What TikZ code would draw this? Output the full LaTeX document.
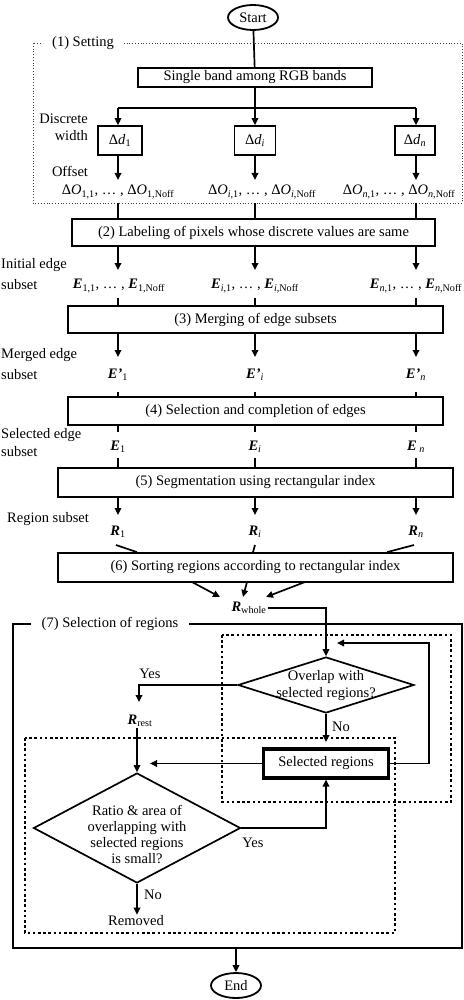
\documentclass[tikz,border=0pt]{standalone}
\usepackage{amsmath}
\usepackage{fontspec}
\setmainfont{Liberation Serif}
\usetikzlibrary{arrows.meta,shapes.geometric}
\newcommand{\mysub}[1]{\ensuremath{_{\text{#1}}}}
\newcommand{\bE}{\textbf{\textit{E}}}
\newcommand{\bR}{\textbf{\textit{R}}}
\begin{document}
\begin{tikzpicture}[x=1pt,y=-1pt,
  font=\fontsize{14.5}{17}\selectfont,
  ln/.style={line width=1.7pt},
  arr/.style={line width=1.7pt,-{Triangle[length=7pt,width=6.5pt]}},
  box/.style={draw,line width=1.7pt,inner sep=0pt},
  txt/.style={inner sep=1pt},
  lbl/.style={inner sep=1pt,anchor=west},
  term/.style={draw,ellipse,line width=1.8pt,minimum width=50pt,minimum height=25pt,inner sep=0pt},
  dia/.style={draw,diamond,line width=1.7pt,inner sep=0pt},
  setfr/.style={line width=0.8pt,dotted,black!75},
  dotfr/.style={line width=2.6pt,dash pattern=on 2.6pt off 2.6pt},
  frame/.style={line width=1.7pt},
  gaplbl/.style={fill=white,inner xsep=10pt,inner ysep=1pt}]
\useasboundingbox (0,0) rectangle (463,1000);

% ---------- (1) Setting ----------
\node[term] (start) at (253,17.5) {Start};
\draw[setfr] (33,43) rectangle (462,203);
\node[gaplbl] (setl) at (83,43) {(1) Setting};
\node[box,minimum width=234pt,minimum height=19pt] (b1) at (255,77.5) {Single band among RGB bands};
\draw[ln] (start) -- (b1);
\coordinate (br1) at (118,108);
\coordinate (bri) at (255,108);
\coordinate (brn) at (416,108);
\draw[ln] (b1.south) -- (bri);
\draw[ln] (br1) -- (brn);
\node[box,minimum width=44pt,minimum height=29pt] (d1) at (120,140.5) {Δ\textit{d}\mysub{1}};
\node[box,minimum width=41pt,minimum height=29pt] (di) at (255,140.5) {Δ\textit{d}\mysub{\textit{i}}};
\node[box,minimum width=40pt,minimum height=29pt] (dn) at (415,140.5) {Δ\textit{d}\mysub{\textit{n}}};
\draw[arr] (br1) -- (br1 |- d1.north);
\draw[arr] (bri) -- (di.north);
\draw[arr] (brn) -- (brn |- dn.north);
\node[anchor=east,align=right,inner sep=1pt] (dwl) at (89,127.5) {Discrete\\width};
\node[txt] (offl) at (70,171) {Offset};
\coordinate (a1) at (118,180);
\coordinate (ai) at (255,180);
\coordinate (an) at (416,180);
\draw[arr] (d1.south -| a1) -- (a1);
\draw[arr] (di.south) -- (ai);
\draw[arr] (dn.south -| an) -- (an);
\node[txt] (o1) at (118,192) {Δ\textit{O}\mysub{1,1}, … , Δ\textit{O}\mysub{1,Noff}};
\node[txt] (oi) at (262,192) {Δ\textit{O}\mysub{\textit{i},1}, … , Δ\textit{O}\mysub{\textit{i},Noff}};
\node[txt] (on) at (399,192) {Δ\textit{O}\mysub{\textit{n},1}, …\ , Δ\textit{O}\mysub{\textit{n},Noff}};

% ---------- (2) ----------
\node[box,minimum width=363pt,minimum height=27pt] (b2) at (253.5,232.5) {(2) Labeling of pixels whose discrete values are same};
\coordinate (s1) at (118,203);
\coordinate (si) at (255,203);
\coordinate (sn) at (416,203);
\draw[ln] (s1) -- (s1 |- b2.north);
\draw[ln] (si) -- (si |- b2.north);
\draw[ln] (sn) -- (sn |- b2.north);
\coordinate (e1a) at (118,270);
\coordinate (eia) at (255,270);
\coordinate (ena) at (416,270);
\draw[arr] (b2.south -| e1a) -- (e1a);
\draw[arr] (b2.south -| eia) -- (eia);
\draw[arr] (b2.south -| ena) -- (ena);
\node[lbl] (ie1) at (0,265) {Initial edge};
\node[lbl] (ie2) at (0,285) {subset};
\node[txt] (e1) at (119,286) {\bE\mysub{1,1}, … , \bE\mysub{1,Noff}};
\node[txt] (ei) at (255,286) {\bE\mysub{\textit{i},1}, … , \bE\mysub{\textit{i},Noff}};
\node[txt] (en) at (416,286) {\bE\mysub{\textit{n},1}, … , \bE\mysub{\textit{n},Noff}};

% ---------- (3) ----------
\node[box,minimum width=375pt,minimum height=27pt] (b3) at (255.5,319.5) {(3) Merging of edge subsets};
\coordinate (f1) at (118,298);
\coordinate (fi) at (255,298);
\coordinate (fn) at (416,298);
\draw[ln] (f1) -- (f1 |- b3.north);
\draw[ln] (fi) -- (fi |- b3.north);
\draw[ln] (fn) -- (fn |- b3.north);
\coordinate (m1a) at (118,357);
\coordinate (mia) at (255,357);
\coordinate (mna) at (416,357);
\draw[arr] (b3.south -| m1a) -- (m1a);
\draw[arr] (b3.south -| mia) -- (mia);
\draw[arr] (b3.south -| mna) -- (mna);
\node[lbl] (me1) at (0,355) {Merged edge};
\node[lbl] (me2) at (0,375) {subset};
\node[txt] (m1) at (118,375) {\textbf{\textit{E’}}\mysub{1}};
\node[txt] (mi) at (255,375) {\textbf{\textit{E’}}\mysub{\textit{i}}};
\node[txt] (mn) at (416,375) {\textbf{\textit{E’}}\mysub{\textit{n}}};

% ---------- (4) ----------
\node[box,minimum width=375pt,minimum height=28pt] (b4) at (255.5,411) {(4) Selection and completion of edges};
\coordinate (g1) at (118,392);
\coordinate (gi) at (255,392);
\coordinate (gn) at (416,392);
\draw[ln] (g1) -- (g1 |- b4.north);
\draw[ln] (gi) -- (gi |- b4.north);
\draw[ln] (gn) -- (gn |- b4.north);
\coordinate (h1) at (118,432);
\coordinate (hi) at (255,432);
\coordinate (hn) at (416,432);
\draw[ln] (b4.south -| h1) -- (h1);
\draw[ln] (b4.south -| hi) -- (hi);
\draw[ln] (b4.south -| hn) -- (hn);
\node[lbl] (se1) at (0,435) {Selected edge};
\node[lbl] (se2) at (0,452) {subset};
\node[txt] (x1) at (118,447) {\bE\mysub{1}};
\node[txt] (xi) at (255,447) {\bE\mysub{\textit{i}}};
\node[txt] (xn) at (416,447) {\bE\,\mysub{\textit{n}}};

% ---------- (5) ----------
\node[box,minimum width=395pt,minimum height=29pt] (b5) at (255.5,482.5) {(5) Segmentation using rectangular index};
\coordinate (k1) at (118,458);
\coordinate (ki) at (255,458);
\coordinate (kn) at (416,458);
\draw[ln] (k1) -- (k1 |- b5.north);
\draw[ln] (ki) -- (ki |- b5.north);
\draw[ln] (kn) -- (kn |- b5.north);
\coordinate (r1a) at (118,515);
\coordinate (ria) at (255,515);
\coordinate (rna) at (416,515);
\draw[arr] (b5.south -| r1a) -- (r1a);
\draw[arr] (b5.south -| ria) -- (ria);
\draw[arr] (b5.south -| rna) -- (rna);
\node[lbl] (rsl) at (6,519) {Region subset};
\node[txt] (r1) at (118,532) {\bR\mysub{1}};
\node[txt] (ri) at (255,532) {\bR\mysub{\textit{i}}};
\node[txt] (rn) at (416,532) {\bR\mysub{\textit{n}}};

% ---------- (6) ----------
\node[box,minimum width=395pt,minimum height=29pt] (b6) at (255.5,567.5) {(6) Sorting regions according to rectangular index};
\coordinate (t1) at (116,545);
\coordinate (ti) at (255,545);
\coordinate (tn) at (414,545);
\draw[ln] (t1) -- (b6.north -| 137,0);
\draw[ln] (ti) -- (b6.north -| 253,0);
\draw[ln] (tn) -- (b6.north -| 387,0);
\coordinate (p1) at (192,582);
\coordinate (p2) at (247,582);
\coordinate (p3) at (305,582);
\coordinate (q1e) at (220,597);
\coordinate (q2e) at (243,597);
\coordinate (q3e) at (266,597);
\draw[arr] (p1) -- (q1e);
\draw[arr] (p2) -- (q2e);
\draw[arr] (p3) -- (q3e);
\node[txt] (rw) at (249,608) {\bR\mysub{whole}};

% ---------- (7) ----------
\draw[frame] (13,624) rectangle (462,948);
\node[gaplbl,inner xsep=11pt] (s7) at (110,624) {(7) Selection of regions};
\draw[dotfr] (222,635) rectangle (451,802);
\draw[dotfr] (25,738) rectangle (395,933);

\node[dia,minimum width=176pt,minimum height=56pt] (qa) at (326,685) {};
\node[txt,align=center] (qat) at (326,686) {Overlap with\\selected regions?};
\draw[arr] (rw.east) -| (qa.north);

\node[box,line width=3.2pt,minimum width=125pt,minimum height=29pt] (sel) at (326,763.5) {Selected regions};
\coordinate (noe) at (326,742);
\draw[arr] (qa.south) -- (noe);
\node[txt] (no1) at (341,727) {No};

\coordinate (fb1) at (429,763.5);
\coordinate (fb2) at (429,643);
\coordinate (fb3) at (337,643);
\draw[arr] (sel.east) -- (fb1) -- (fb2) -- (fb3);

\node[txt] (rr) at (140,721) {\bR\mysub{rest}};
\coordinate (yc) at (139,685);
\coordinate (ye) at (139,702);
\draw[arr] (qa.west) -- (yc) -- (ye);
\node[txt] (yes1) at (150,674) {Yes};

\coordinate (sle) at (150,763.5);
\draw[arr] (sel.west) -- (sle);

\node[dia,minimum width=207pt,minimum height=110pt] (qb) at (137,828) {};
\node[txt,align=center,font=\fontsize{14.5}{16}\selectfont] (qbt) at (137,834) {Ratio \& area of\\overlapping with\\selected regions\\is small?};
\draw[arr] (rr.south -| qb.north) -- (qb.north);
\draw[arr] (qb.east) -| (sel.south);
\node[txt] (yes2) at (253,843) {Yes};

\node[txt] (rem) at (136,921) {Removed};
\draw[arr] (qb.south) -- (qb.south |- rem.north);
\node[txt] (no2) at (153,895) {No};

\node[term] (end) at (236,985.5) {End};
\coordinate (fe) at (236,948);
\draw[arr] (fe) -- (end.north);
\end{tikzpicture}
\end{document}
